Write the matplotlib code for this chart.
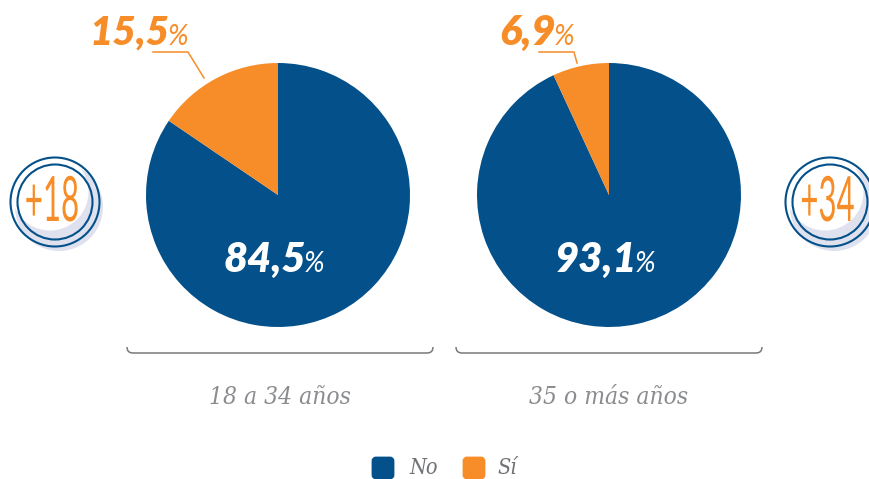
import matplotlib
matplotlib.use('Agg')
import matplotlib.pyplot as plt
import matplotlib.patheffects as pe
from matplotlib.patches import Circle, FancyBboxPatch, PathPatch
from matplotlib.path import Path
from matplotlib.transforms import Affine2D

# datos
categorias = ['No', 'Sí']
jovenes = [84.5, 15.5]
mayores = [93.1, 6.9]
grupos = ['18 a 34 años', '35 o más años']
insignias = ['+18', '+34']

azul = '#03508A'
naranja = '#F78D28'
gris = '#8A8C8F'
sombra = '#DFE2EE'

W, H = 870, 479
fig = plt.figure(figsize=(W / 100, H / 100), dpi=100)
ax = fig.add_axes([0, 0, 1, 1])


def Y(y):
    return H - y


class Estirar(pe.AbstractPathEffect):
    # angosta y alarga el texto alrededor de un punto, para imitar la letra a mano
    def __init__(self, cx, cy, sx, sy):
        super().__init__()
        self.t = Affine2D().translate(-cx, -cy).scale(sx, sy).translate(cx, cy)

    def draw_path(self, renderer, gc, tpath, affine, rgbFace=None):
        renderer.draw_path(gc, tpath, affine + self.t, rgbFace)


# tortas
for datos, cx in [(jovenes, 278), (mayores, 609)]:
    ax.pie(datos, colors=[azul, naranja], startangle=90, counterclock=False,
           center=(cx, Y(195)), radius=132, frame=True)

ax.set_xlim(0, W)
ax.set_ylim(0, H)
ax.set_aspect('equal')
ax.axis('off')


def etiqueta(valor, x, y, color, size, size_pct):
    # el número termina en x y el % va pegado, más fino
    txt = f'{valor:.1f}'.replace('.', ',')
    ax.text(x, Y(y), txt, color=color, fontsize=size, family='Lato', weight='heavy',
            style='italic', ha='right', va='baseline')
    ax.text(x - 2, Y(y), '%', color=color, fontsize=size_pct, family='Lato', weight='normal',
            style='italic', ha='left', va='baseline')


etiqueta(jovenes[0], 306, 272, 'white', 30, 20)
etiqueta(mayores[0], 637, 272, 'white', 30, 20)
etiqueta(jovenes[1], 170, 45, naranja, 29, 20)
etiqueta(mayores[1], 556, 45, naranja, 30, 20)

# líneas guía
ax.plot([153, 188, 204], [Y(52), Y(52), Y(78)], color=naranja, lw=1.1)
ax.plot([539, 574, 577], [Y(52), Y(52), Y(63)], color=naranja, lw=1.1)

# llaves
for x0, x1, grupo, tx, size in [(127, 433, grupos[0], 280, 17.6), (456, 762, grupos[1], 609, 17.6)]:
    verts = [(x0, Y(347)), (x0, Y(353)), (x0 + 6, Y(353)), (x1 - 6, Y(353)), (x1, Y(353)), (x1, Y(347))]
    codes = [Path.MOVETO, Path.CURVE3, Path.CURVE3, Path.LINETO, Path.CURVE3, Path.CURVE3]
    ax.add_patch(PathPatch(Path(verts, codes), fill=False, ec='#77797C', lw=1.1))
    ax.text(tx, Y(397), grupo, color=gris, fontsize=size, family='DejaVu Serif',
            style='italic', stretch='condensed', ha='center', va='center')

# insignias
for cx, tx, etq in [(55, 52, insignias[0]), (830, 827.5, insignias[1])]:
    cy = 202
    ax.add_patch(Circle((cx + 4, Y(cy + 5)), 44, fc=sombra, ec='none'))
    ax.add_patch(Circle((cx - 5, Y(cy - 10)), 38.5, fc='white', ec='none'))
    ax.add_patch(Circle((cx, Y(cy)), 44.5, fc='none', ec=azul, lw=1.5))
    ax.add_patch(Circle((cx, Y(cy)), 37.5, fc='none', ec=azul, lw=1.5))
    ax.text(tx, Y(cy + 1), etq, color=naranja, fontsize=30, family='Lato', ha='center', va='center',
            path_effects=[Estirar(tx, Y(cy + 1), 0.75, 1.5)])

# leyenda
for x, color, cat, tx in [(371, azul, categorias[0], 409), (462, naranja, categorias[1], 497)]:
    ax.add_patch(FancyBboxPatch((x + 2, Y(478)), 20, 20, boxstyle='round,pad=0,rounding_size=3',
                                fc=color, ec=color, lw=2))
    ax.text(tx, Y(468), cat, color='#6F7174', fontsize=15.5, family='DejaVu Serif', style='italic',
            stretch='condensed', ha='left', va='center')

fig.savefig('out.png', dpi=100)
